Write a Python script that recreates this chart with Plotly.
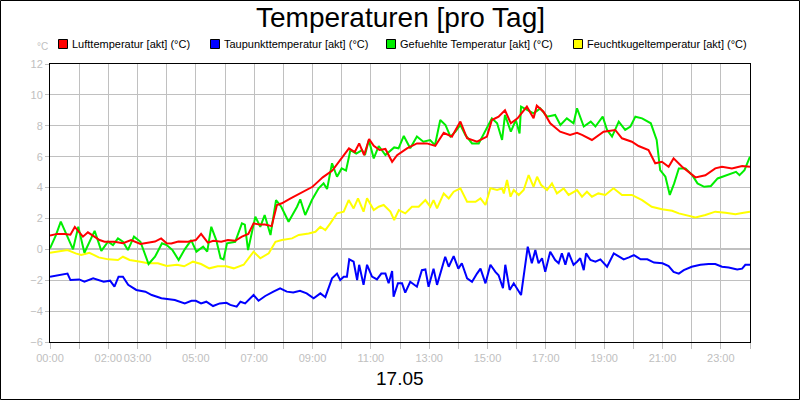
import plotly.graph_objects as go

# ---------------- data (hour of day, °C) ----------------
luft_pts = [(0,0.9),(0.25,1.0),(0.5,1.0),(0.7,0.95),(0.85,1.45),(1.0,1.1),(1.13,0.82),(1.3,1.1),(1.53,0.82),(1.7,0.6),
            (1.87,0.49),(2.21,0.49),(2.5,0.4),(2.78,0.6),(3.1,0.35),(3.36,0.43),(3.6,0.5),(3.81,0.71),(4.0,0.4),(4.16,0.38),
            (4.4,0.5),(4.73,0.49),(5.0,0.6),(5.18,1.0),(5.41,0.43),(5.6,0.55),(5.87,0.49),(6.1,0.6),(6.35,0.55),(6.58,0.82),
            (6.8,1.0),(6.98,1.68),(7.2,1.6),(7.37,1.6),(7.6,1.5),(7.78,2.87),(7.95,2.98),(8.25,3.3),(8.55,3.6),(8.8,3.8),
            (9.0,4.05),(9.2,4.4),(9.35,4.66),(9.68,5.1),(9.95,5.78),(10.25,6.54),(10.45,6.3),(10.6,6.86),(10.77,6.1),(10.94,7.14),
            (11.1,6.7),(11.3,6.43),(11.5,6.5),(11.73,5.67),(11.9,6.1),(12.07,6.32),(12.24,6.54),(12.58,6.86),(12.92,6.86),(13.21,6.7),
            (13.5,7.55),(13.78,7.3),(14.07,8.27),(14.3,7.19),(14.64,6.97),(14.98,7.3),(15.15,8.37),(15.38,8.59),(15.6,9.0),(15.8,8.16),
            (16.03,8.48),(16.35,9.24),(16.58,8.48),(16.69,9.3),(16.92,8.91),(17.15,8.16),(17.49,7.62),(17.83,7.41),(18.07,7.55),(18.24,7.41),
            (18.58,7.08),(18.98,7.62),(19.38,7.73),(19.61,7.19),(19.95,6.97),(20.18,6.69),(20.52,6.43),(20.75,5.57),(20.98,5.67),(21.21,5.35),
            (21.38,5.89),(21.67,5.35),(21.9,5.0),(22.13,4.66),(22.47,4.8),(22.81,5.24),(23.04,5.35),(23.38,5.24),(23.73,5.39),(24.0,5.35)]

taupunkt_pts = [(0,-1.77),(0.3,-1.68),(0.6,-1.57),(0.7,-1.99),(1.0,-1.95),(1.18,-2.1),(1.48,-1.88),(1.84,-2.1),(2.06,-2.03),(2.21,-2.42),
                (2.35,-1.77),(2.5,-1.77),(2.68,-2.3),(2.96,-2.63),(3.27,-2.74),(3.49,-2.96),(3.82,-3.17),(4.28,-3.28),(4.62,-3.5),(4.85,-3.33),
                (5.0,-3.33),(5.18,-3.5),(5.36,-3.39),(5.59,-3.67),(5.82,-3.5),(6.05,-3.46),(6.18,-3.6),(6.4,-3.71),(6.53,-3.39),(6.69,-3.5),
                (6.98,-2.96),(7.15,-3.33),(7.38,-3.02),(7.66,-2.74),(7.89,-2.52),(8.12,-2.74),(8.34,-2.8),(8.57,-2.68),(8.8,-2.85),(9.04,-3.17),
                (9.27,-2.85),(9.44,-3.1),(9.67,-1.88),(9.84,-1.57),(9.95,-1.99),(10.07,-1.77),(10.18,-1.77),(10.26,-0.65),(10.41,-0.8),(10.53,-1.99),
                (10.6,-1.0),(10.75,-2.3),(10.87,-1.0),(11.04,-1.77),(11.21,-1.95),(11.36,-1.57),(11.5,-1.57),(11.61,-2.2),(11.73,-1.4),(11.78,-3.07),
                (11.93,-2.2),(12.07,-2.2),(12.18,-2.8),(12.35,-2.1),(12.58,-2.42),(12.75,-1.35),(12.87,-1.3),(12.98,-2.42),(13.15,-1.25),(13.27,-2.3),
                (13.38,-1.57),(13.55,-0.48),(13.67,-1.13),(13.84,-0.44),(14.0,-1.25),(14.12,-0.9),(14.3,-1.88),(14.47,-2.1),(14.64,-1.57),(14.76,-1.25),
                (14.93,-2.2),(15.1,-1.0),(15.27,-1.46),(15.38,-1.68),(15.53,-2.52),(15.61,-1.0),(15.76,-2.63),(15.9,-2.2),(16.15,-2.96),(16.24,-1.77),
                (16.38,0.17),(16.52,-0.9),(16.64,-0.05),(16.75,-0.9),(16.87,-0.58),(16.98,-1.46),(17.15,-0.15),(17.32,-0.69),(17.44,-0.9),(17.55,-0.26),
                (17.67,-1.0),(17.78,-0.22),(17.95,-1.0),(18.07,-0.8),(18.18,-0.58),(18.3,-1.35),(18.38,-0.26),(18.53,-0.69),(18.7,-0.8),(18.87,-0.65),
                (19.1,-1.13),(19.33,-0.26),(19.5,-0.48),(19.67,-0.65),(19.85,-0.52),(20.02,-0.37),(20.25,-0.65),(20.48,-0.65),(20.71,-0.86),(21.0,-0.9),
                (21.21,-1.08),(21.38,-1.46),(21.56,-1.57),(21.73,-1.35),(22.0,-1.13),(22.3,-1.0),(22.58,-0.95),(22.81,-0.95),(23.04,-1.13),(23.27,-1.18),
                (23.56,-1.3),(23.73,-1.25),(23.84,-1.0),(24.0,-1.0)]

gefuehlt_pts = [(0,0.06),(0.2,0.9),(0.37,1.79),(0.55,1.0),(0.79,0.0),(0.97,1.46),(1.18,-0.22),(1.53,1.2),(1.76,-0.1),(1.99,0.5),
                (2.16,0.28),(2.33,0.71),(2.5,0.49),(2.67,-0.05),(2.88,0.82),(3.1,0.49),(3.38,-0.95),(3.6,-0.48),(3.84,0.39),(4.0,0.28),
                (4.2,-0.05),(4.41,-0.69),(4.62,0.0),(4.84,0.6),(5.02,-0.15),(5.25,0.17),(5.39,-0.15),(5.53,1.46),(5.7,0.6),(5.85,-0.58),
                (5.95,-0.65),(6.07,0.39),(6.35,0.49),(6.58,1.68),(6.68,1.6),(6.79,-0.05),(7.04,2.11),(7.21,1.46),(7.36,2.22),(7.56,0.93),
                (7.75,3.19),(7.93,2.76),(8.18,1.79),(8.47,2.76),(8.58,3.24),(8.75,2.22),(8.98,3.19),(9.21,3.95),(9.38,4.27),(9.5,3.9),
                (9.67,5.57),(9.84,4.7),(10.0,5.24),(10.15,5.1),(10.3,6.43),(10.5,6.2),(10.7,6.43),(10.8,6.1),(10.93,7.08),(11.1,5.89),
                (11.27,6.69),(11.5,6.1),(11.8,6.6),(11.95,6.54),(12.13,7.34),(12.35,6.54),(12.58,7.3),(12.8,6.97),(13.03,7.08),(13.2,6.75),
                (13.38,8.37),(13.56,8.05),(13.73,7.3),(13.9,7.62),(14.07,8.05),(14.24,7.41),(14.47,6.86),(14.7,6.86),(14.93,7.73),(15.15,8.48),
                (15.33,8.16),(15.5,7.08),(15.6,8.7),(15.8,7.62),(15.97,8.37),(16.1,7.5),(16.15,9.24),(16.36,9.02),(16.58,8.8),(16.81,9.13),
                (17.04,8.59),(17.32,8.7),(17.5,8.05),(17.72,8.48),(17.95,8.16),(18.07,9.13),(18.3,7.95),(18.54,8.27),(18.7,7.95),(18.95,8.59),
                (19.1,7.73),(19.27,7.3),(19.5,8.27),(19.72,7.73),(19.9,7.95),(20.07,8.59),(20.3,8.48),(20.6,8.16),(20.8,7.08),(20.92,5.13),
                (21.1,4.7),(21.25,3.52),(21.4,4.27),(21.56,5.24),(21.79,5.24),(22.02,4.8),(22.2,4.27),(22.43,4.05),(22.66,4.1),(22.89,4.59),
                (23.23,4.8),(23.52,5.02),(23.64,4.8),(23.81,5.13),(24.0,6.0)]

feucht_pts = [(0,-0.22),(0.3,-0.15),(0.6,-0.05),(0.88,-0.26),(1.07,-0.37),(1.35,-0.22),(1.67,-0.52),(2.0,-0.65),(2.33,-0.69),(2.5,-0.48),
              (2.73,-0.69),(3.1,-0.8),(3.36,-0.9),(3.7,-0.9),(4.0,-1.08),(4.35,-1.0),(4.6,-1.1),(4.9,-0.8),(5.18,-0.95),(5.46,-1.23),
              (5.75,-1.1),(6.04,-1.1),(6.3,-1.23),(6.64,-1.0),(6.98,-0.15),(7.21,-0.58),(7.5,-0.26),(7.73,0.49),(7.95,0.6),(8.3,0.71),
              (8.53,0.93),(8.87,1.03),(9.1,1.14),(9.27,1.46),(9.44,1.25),(9.61,1.68),(9.84,2.33),(10.07,2.44),(10.24,3.19),(10.41,2.65),
              (10.56,3.3),(10.75,2.44),(10.87,3.3),(11.1,2.54),(11.27,2.76),(11.44,2.87),(11.67,2.44),(11.8,1.9),(11.96,2.54),(12.18,2.33),
              (12.41,2.76),(12.64,2.76),(12.87,3.19),(13.04,2.76),(13.15,3.19),(13.27,2.65),(13.5,3.62),(13.67,3.3),(13.84,3.73),(14.07,3.95),
              (14.3,3.08),(14.59,3.08),(14.76,3.3),(14.93,2.87),(15.1,3.95),(15.33,3.84),(15.5,3.95),(15.56,3.62),(15.67,4.49),(15.79,3.41),
              (15.9,3.84),(16.07,3.52),(16.24,3.84),(16.41,4.81),(16.58,4.05),(16.7,4.7),(16.84,4.16),(17.04,3.84),(17.21,4.27),(17.38,3.62),
              (17.61,3.95),(17.78,3.52),(17.95,3.73),(18.07,3.84),(18.24,3.41),(18.41,3.73),(18.58,3.41),(18.8,3.62),(19.04,3.52),(19.32,3.95),
              (19.61,3.52),(19.95,3.52),(20.3,3.19),(20.63,2.76),(20.98,2.59),(21.33,2.5),(21.56,2.33),(21.85,2.22),(22.13,2.07),(22.47,2.22),
              (22.81,2.44),(23.16,2.37),(23.5,2.28),(23.78,2.37),(24.0,2.44)]

luft_h, luft_v = zip(*luft_pts)
tau_h, tau_v = zip(*taupunkt_pts)
gef_h, gef_v = zip(*gefuehlt_pts)
feu_h, feu_v = zip(*feucht_pts)

series_names = ["Lufttemperatur [akt] (°C)", "Taupunkttemperatur [akt] (°C)",
                "Gefuehlte Temperatur [akt] (°C)", "Feuchtkugeltemperatur [akt] (°C)"]
series_colors = ["#ff0000", "#0000ff", "#00ee00", "#ffff00"]

hour_ticks = list(range(0, 25))
labelled_hours = [0, 2, 3, 5, 7, 9, 11, 13, 15, 17, 19, 21, 23]
hour_text = [f"{h:02d}:00" if h in labelled_hours else "" for h in hour_ticks]
y_ticks = list(range(-6, 13, 2))

title_text = "Temperaturen [pro Tag]"
date_text = "17.05"
unit_text = "°C"

# ---------------- figure ----------------
W, H = 800, 400
ML, MR, MT, MB = 50, 50, 64, 58
PW, PH = W - ML - MR, H - MT - MB

def px(x):
    return (x - ML) / PW

def py(y):
    return (H - MB - y) / PH

fig = go.Figure()
data_sets = [(luft_h, luft_v), (tau_h, tau_v), (gef_h, gef_v), (feu_h, feu_v)]
draw_order = [1, 3, 2, 0]
for i in draw_order:
    xs, ys = data_sets[i]
    fig.add_trace(go.Scatter(x=list(xs), y=list(ys), mode="lines", name=series_names[i],
                             line=dict(color=series_colors[i], width=2), showlegend=False,
                             hoverinfo="skip"))

shapes = []
annotations = []
legend_x = [58, 210, 386, 573]
for i, name in enumerate(series_names):
    x0 = legend_x[i]
    shapes.append(dict(type="rect", xref="paper", yref="paper",
                       x0=px(x0 + 0.5), x1=px(x0 + 9.5), y0=py(48.5), y1=py(39.5),
                       fillcolor=series_colors[i], line=dict(color="black", width=1)))
    annotations.append(dict(text=name, xref="paper", yref="paper", x=px(x0 + 12), y=py(44),
                            xanchor="left", yanchor="middle", showarrow=False,
                            font=dict(size=11, color="black", family="Liberation Sans, Arial")))

# outer border
shapes.append(dict(type="rect", xref="paper", yref="paper",
                   x0=px(0.5), x1=px(799.5), y0=py(399.5), y1=py(0.5),
                   line=dict(color="black", width=1), fillcolor="rgba(0,0,0,0)", layer="above"))

annotations.append(dict(text=title_text, xref="paper", yref="paper", x=px(400), y=py(18),
                        xanchor="center", yanchor="middle", showarrow=False,
                        font=dict(size=28, color="black", family="Liberation Sans, Arial")))
annotations.append(dict(text=date_text, xref="paper", yref="paper", x=px(400), y=py(378),
                        xanchor="center", yanchor="middle", showarrow=False,
                        font=dict(size=19, color="black", family="Liberation Sans, Arial")))
annotations.append(dict(text=unit_text, xref="paper", yref="paper", x=px(42), y=py(47),
                        xanchor="center", yanchor="middle", showarrow=False,
                        font=dict(size=10, color="#c0c0c0", family="Liberation Sans, Arial")))

fig.update_layout(
    width=W, height=H,
    margin=dict(l=ML, r=MR, t=MT, b=MB, pad=0),
    paper_bgcolor="white", plot_bgcolor="white",
    showlegend=False,
    shapes=shapes, annotations=annotations,
    font=dict(family="Liberation Sans, Arial", size=11, color="#c0c0c0"),
)
fig.update_xaxes(range=[0, 24], tickmode="array", tickvals=hour_ticks, ticktext=hour_text,
                 showgrid=True, gridcolor="#c0c0c0", gridwidth=1,
                 ticks="outside", ticklen=6, tickcolor="#c0c0c0", tickwidth=1,
                 showline=True, linecolor="black", linewidth=1, mirror=True,
                 zeroline=False, tickfont=dict(size=11, color="#c0c0c0"), tickangle=0)
fig.update_yaxes(range=[-6, 12], tickmode="array", tickvals=y_ticks,
                 showgrid=True, gridcolor="#c0c0c0", gridwidth=1,
                 zeroline=True, zerolinecolor="#c0c0c0", zerolinewidth=2,
                 ticks="outside", ticklen=4, tickcolor="#c0c0c0", tickwidth=1,
                 showline=True, linecolor="black", linewidth=1, mirror=True,
                 tickfont=dict(size=11, color="#c0c0c0"))

fig.write_html("out.html")
